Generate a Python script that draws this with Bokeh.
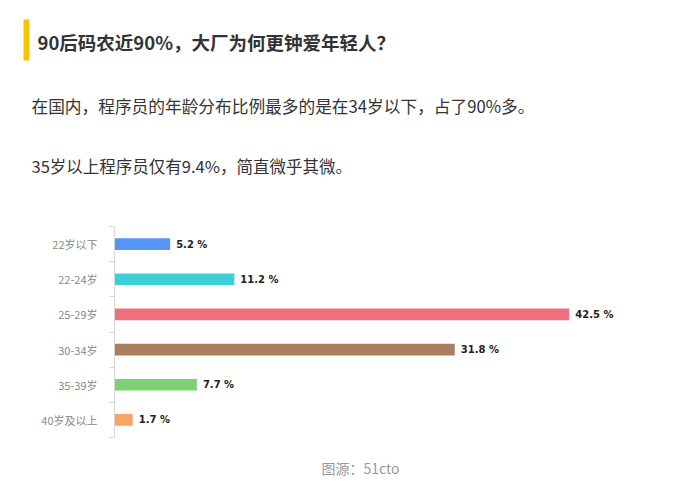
from bokeh.plotting import figure
from bokeh.layouts import column
from bokeh.models import Range1d, FixedTicker, Label, BoxAnnotation, ColumnDataSource
from bokeh.core.properties import value
from bokeh.embed import file_html
from bokeh.resources import INLINE

# data
ages = ["22岁以下", "22-24岁", "25-29岁", "30-34岁", "35-39岁", "40岁及以上"]
shares = [5.2, 11.2, 42.5, 31.8, 7.7, 1.7]
bar_colors = ["#5596f7", "#3ccfd8", "#f06f7e", "#ab7e5d", "#7dd174", "#f6a468"]

headline = "90后码农近90%，大厂为何更钟爱年轻人？"
line1 = "在国内，程序员的年龄分布比例最多的是在34岁以下，占了90%多。"
line2 = "35岁以上程序员仅有9.4%，简直微乎其微。"
source_note = "图源：51cto"

CJK = "Noto Sans CJK SC"
W = 686


def blank(h):
    # a figure without axes, its data units are pixels from the top-left
    f = figure(width=W, height=h, output_backend="svg", toolbar_location=None,
               x_range=Range1d(0, W), y_range=Range1d(h, 0),
               x_axis_location=None, y_axis_location=None, min_border=0,
               frame_align=False)
    f.outline_line_color = None
    f.xgrid.visible = False
    f.ygrid.visible = False
    return f


def put(f, text, x, y, size, color, style="normal", align="left"):
    f.add_layout(Label(x=x, y=y, text=text, text_font=CJK, text_font_size=size,
                       text_font_style=style, text_color=color,
                       text_baseline="middle", text_align=align))


# heading and the two sentences
top = blank(212)
top.add_layout(BoxAnnotation(left=23, right=29, top=19, bottom=60,
                             fill_color="#f5c400", fill_alpha=1, line_color=None))
put(top, headline, 37, 41, "18.5px", "#333333", "bold")
put(top, line1, 31, 105, "16.7px", "#333333")
put(top, line2, 31, 165, "16.5px", "#333333")

# the bar chart
pos = list(range(len(ages)))
src = ColumnDataSource(dict(
    y=pos, share=shares, color=bar_colors,
    label=["%.1f %%" % s for s in shares],
))

p = figure(width=W, height=235, output_backend="svg", toolbar_location=None,
           x_range=Range1d(0, 50), y_range=Range1d(len(ages) - 0.5, -0.5),
           min_border_left=114, min_border_right=37,
           min_border_top=14, min_border_bottom=10,
           x_axis_location=None, frame_align=False)
p.outline_line_color = None
p.xgrid.visible = False
p.ygrid.visible = False

p.hbar(y="y", left=0, right="share", height=0.33, color="color",
       line_color=None, source=src)
p.text(x="share", y="y", text="label", source=src, x_offset=6,
       text_baseline="middle", text_font=value("DejaVu Sans"),
       text_font_style="bold", text_font_size="10px", text_color="#222222")

ax = p.yaxis[0]
ax.ticker = FixedTicker(ticks=pos, minor_ticks=[i - 0.5 for i in range(len(ages) + 1)])
ax.major_label_overrides = {i: a for i, a in zip(pos, ages)}
ax.major_label_text_font = CJK
ax.major_label_text_font_size = "11px"
ax.major_label_text_color = "#888888"
ax.major_label_standoff = 12
ax.major_tick_line_color = None
ax.major_tick_out = 0
ax.major_tick_in = 0
ax.minor_tick_out = 5
ax.minor_tick_in = 0
ax.minor_tick_line_color = "#d6d6d6"
ax.axis_line_color = "#d6d6d6"

# source note
bottom = blank(487 - 212 - 235)
put(bottom, source_note, 360, 20, "14px", "#9a9a9a", align="center")

page = column(top, p, bottom, spacing=0)
open("out.html", "w").write(file_html(page, INLINE))
